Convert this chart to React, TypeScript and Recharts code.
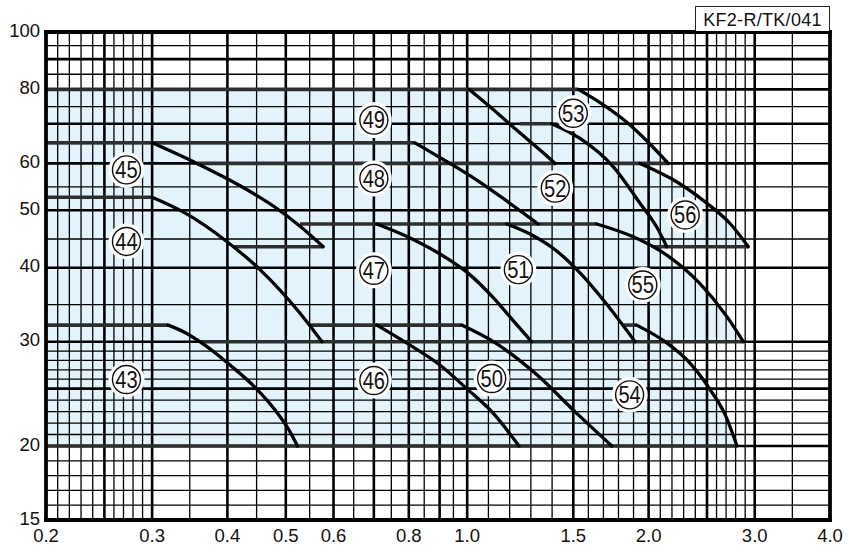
import React from 'react';
import { ComposedChart, XAxis, YAxis, Line, Area, Scatter } from 'recharts';

// ---- axis ticks / grid ----
const flowTicks = [0.2, 0.3, 0.4, 0.5, 0.6, 0.8, 1.0, 1.5, 2.0, 3.0, 4.0];
const pressureTicks = [15, 20, 30, 40, 50, 60, 80, 100];
const flowMajor = [0.2, 0.25, 0.3, 0.4, 0.5, 0.6, 0.7, 0.8, 0.9, 1.0, 1.5, 2.0, 2.5, 3.0, 4.0];
const flowSteps = [5, 5, 2, 2, 2, 2, 2, 2, 2, 5, 5, 5, 5, 2];
const pressureMajor = [15, 20, 25, 30, 40, 50, 60, 70, 80, 90, 100];
const pressureSteps = [5, 5, 5, 2, 2, 2, 2, 2, 2, 2];

// ---- flat region limits [flow, pressure] ----
const line80 = [[0.2, 80], [1.529, 80]];
const line70 = [[1.223, 70], [1.381, 70]];
const line65 = [[0.2, 65], [0.819, 65]];
const line60a = [[0.356, 60], [1.399, 60]];
const line60b = [[1.726, 60], [2.156, 60]];
const line52 = [[0.2, 52.6], [0.3, 52.6]];
const line47 = [[0.528, 47.4], [1.64, 47.4]];
const line43a = [[0.41, 43.4], [0.577, 43.4]];
const line43b = [[2.034, 43.4], [2.928, 43.4]];
const line32a = [[0.2, 32], [0.319, 32]];
const line32b = [[0.55, 32], [0.979, 32]];
const line32c = [[1.816, 32], [1.911, 32]];
const line30 = [[0.36, 30], [2.872, 30]];
const line20 = [[0.2, 20], [2.8, 20]];

// ---- model curves [flow, pressure] ----
const curve43 = [[0.319, 32], [0.34, 31.1], [0.367, 29.6], [0.404, 27.4], [0.445, 25.1], [0.48, 23.0], [0.506, 21.3], [0.523, 20]];
const curve44 = [[0.3, 52.6], [0.34, 49.5], [0.399, 44.3], [0.453, 39.7], [0.528, 33.5], [0.574, 30]];
const curve45 = [[0.3, 65], [0.356, 60], [0.42, 55.0], [0.48, 50.6], [0.528, 47.0], [0.577, 43.4]];
const curve46 = [[0.708, 32], [0.804, 29.6], [0.901, 27.4], [0.998, 25], [1.105, 22.7], [1.219, 20]];
const curve47 = [[0.708, 47.4], [0.804, 44.9], [0.918, 41.7], [1.011, 38.9], [1.099, 35.8], [1.191, 32.6], [1.279, 30]];
const curve48 = [[0.819, 65], [0.918, 60.7], [1.03, 56.5], [1.155, 52.1], [1.312, 47.4]];
const curve49 = [[1.008, 80], [1.091, 74.8], [1.208, 68.3], [1.321, 63.2], [1.399, 60]];
const curve50 = [[0.979, 32], [1.105, 30], [1.304, 26.4], [1.52, 22.7], [1.738, 20]];
const curve51 = [[1.163, 47.4], [1.271, 45.6], [1.399, 42.9], [1.539, 39.2], [1.693, 35.0], [1.899, 30]];
const curve52 = [[1.381, 70], [1.539, 66.1], [1.748, 59.2], [1.935, 51.4], [2.062, 46.9], [2.144, 43.4]];
const curve53 = [[1.529, 80], [1.661, 76.0], [1.828, 70.8], [1.995, 65.2], [2.156, 60]];
const curve54 = [[1.911, 32], [2.13, 30.0], [2.343, 27.6], [2.53, 24.9], [2.679, 22.6], [2.804, 20]];
const curve55 = [[1.64, 47.4], [1.886, 45.1], [2.144, 42], [2.434, 37.6], [2.696, 33.1], [2.872, 30]];
const curve56 = [[1.935, 60], [2.198, 56.3], [2.498, 51.4], [2.73, 47.5], [2.928, 43.4]];

// ---- region labels ----
const labelNames = ['43', '44', '45', '46', '47', '48', '49', '50', '51', '52', '53', '54', '55', '56'];
const labelFlow = [0.272, 0.272, 0.272, 0.7, 0.7, 0.7, 0.7, 1.098, 1.216, 1.4, 1.5, 1.86, 1.956, 2.3];
const labelPressure = [25.9, 44.3, 58.5, 25.8, 39.6, 56.6, 71.0, 26.0, 39.7, 54.5, 72.9, 24.4, 37.4, 49.1];

const title = 'KF2-R/TK/041';

// ---- helpers ----
const subdivide = (majors: number[], steps: number[]) => {
  const out: number[] = [];
  for (let i = 0; i < steps.length; i++) {
    const a = majors[i];
    const b = majors[i + 1];
    for (let k = 1; k < steps[i]; k++) out.push(a * Math.pow(b / a, k / steps[i]));
  }
  return out;
};
const toPts = (arr: number[][]) => arr.map(([x, y]) => ({ x, y }));
const rangeFill = (low: number, lead: number[][], curve: number[][]) =>
  [...lead, ...curve].map(([x, y]) => ({ x, r: [low, y] }));

const X0 = flowMajor[0];
const X1 = flowMajor[flowMajor.length - 1];
const Y0 = pressureMajor[0];
const Y1 = pressureMajor[pressureMajor.length - 1];

const flowMinor = subdivide(flowMajor, flowSteps);
const pressureMinor = subdivide(pressureMajor, pressureSteps);
const flowInner = flowMajor.slice(1, -1);
const pressureInner = pressureMajor.slice(1, -1);

const vLine = (v: number) => [{ x: v, y: Y0 }, { x: v, y: Y1 }];
const hLine = (v: number) => [{ x: X0, y: v }, { x: X1, y: v }];

const fills = [
  [{ x: 0.2, r: [20, 80] }, { x: 1.529, r: [20, 80] }],
  rangeFill(60, [[1.399, 80]], curve53),
  rangeFill(43.4, [[1.3, 70]], curve52),
  rangeFill(43.4, [[1.5, 60]], curve56),
  rangeFill(30, [[1.5, 47.4]], curve55),
  rangeFill(20, [[1.5, 32]], curve54),
];

const flats = [line80, line70, line65, line60a, line60b, line52, line47, line43a, line43b, line32a, line32b, line32c, line30, line20];
const curves = [curve43, curve44, curve45, curve46, curve47, curve48, curve49, curve50, curve51, curve52, curve53, curve54, curve55, curve56];

const labels = labelNames.map((name, i) => ({ x: labelFlow[i], y: labelPressure[i], name }));

const FONT = '"Liberation Sans", Arial, Helvetica, sans-serif';

const Badge = (props: any) => {
  const { cx, cy, payload } = props;
  if (cx == null || cy == null) return null;
  return (
    <g>
      <circle cx={cx} cy={cy} r={18} fill="#ffffff" />
      <circle cx={cx} cy={cy} r={14} fill="#ffffff" stroke="#111" strokeWidth={1.4} />
      <text
        transform={`translate(${cx},${cy + 8.4}) scale(0.84,1)`}
        textAnchor="middle"
        fontSize={24}
        fontFamily={FONT}
        fill="#111"
      >
        {payload.name}
      </text>
    </g>
  );
};

export default function App() {
  return (
    <div style={{ position: 'absolute', left: 0, top: 0, width: 857, height: 553, background: '#fff' }}>
      <ComposedChart width={857} height={553} margin={{ top: 32, right: 27, bottom: 0, left: 0 }}>
        <XAxis
          type="number"
          dataKey="x"
          scale="log"
          domain={[X0, X1]}
          ticks={flowTicks}
          interval={0}
          tickFormatter={(v: number) => v.toFixed(1)}
          axisLine={false}
          tickLine={false}
          tickSize={0}
          tickMargin={9}
          height={33}
          tick={{ fontSize: 18.5, fill: '#111', fontFamily: FONT }}
        />
        <YAxis
          type="number"
          dataKey="y"
          scale="log"
          domain={[Y0, Y1]}
          ticks={pressureTicks}
          interval={0}
          axisLine={false}
          tickLine={false}
          tickSize={0}
          tickMargin={6}
          width={46}
          tick={{ fontSize: 18.5, fill: '#111', fontFamily: FONT, dy: -2 }}
        />

        {fills.map((d, i) => (
          <Area
            key={`f${i}`}
            data={d}
            dataKey="r"
            type="monotoneX"
            fill="#E3F3FC"
            fillOpacity={1}
            stroke="none"
            isAnimationActive={false}
            activeDot={false}
          />
        ))}

        {flowMinor.map((v, i) => (
          <Line key={`vm${i}`} data={vLine(v)} dataKey="y" type="linear" stroke="#000" strokeWidth={1.3} dot={false} activeDot={false} isAnimationActive={false} />
        ))}
        {pressureMinor.map((v, i) => (
          <Line key={`hm${i}`} data={hLine(v)} dataKey="y" type="linear" stroke="#000" strokeWidth={1.3} dot={false} activeDot={false} isAnimationActive={false} />
        ))}
        {flowInner.map((v, i) => (
          <Line key={`vM${i}`} data={vLine(v)} dataKey="y" type="linear" stroke="#000" strokeWidth={2.6} dot={false} activeDot={false} isAnimationActive={false} />
        ))}
        {pressureInner.map((v, i) => (
          <Line key={`hM${i}`} data={hLine(v)} dataKey="y" type="linear" stroke="#000" strokeWidth={2.6} dot={false} activeDot={false} isAnimationActive={false} />
        ))}

        {flats.map((d, i) => (
          <Line key={`fl${i}`} data={toPts(d)} dataKey="y" type="linear" stroke="#2e2e2e" strokeWidth={3.6} dot={false} activeDot={false} isAnimationActive={false} />
        ))}
        {curves.map((d, i) => (
          <Line key={`cv${i}`} data={toPts(d)} dataKey="y" type="monotoneX" stroke="#000" strokeWidth={3.3} strokeLinecap="round" dot={false} activeDot={false} isAnimationActive={false} />
        ))}

        {[vLine(X0), vLine(X1), hLine(Y0), hLine(Y1)].map((d, i) => (
          <Line key={`b${i}`} data={d} dataKey="y" type="linear" stroke="#000" strokeWidth={3.8} strokeLinecap="square" dot={false} activeDot={false} isAnimationActive={false} />
        ))}

        <Scatter data={labels} shape={Badge} isAnimationActive={false} />
      </ComposedChart>
      <div
        style={{
          position: 'absolute',
          left: 695,
          top: 6,
          width: 133,
          height: 24,
          border: '1.3px solid #222',
          borderBottom: 'none',
          fontFamily: FONT,
          fontSize: 18,
          lineHeight: '26px',
          textAlign: 'center',
          color: '#111',
          letterSpacing: 0.3,
          background: '#fff',
        }}
      >
        {title}
      </div>
    </div>
  );
}
